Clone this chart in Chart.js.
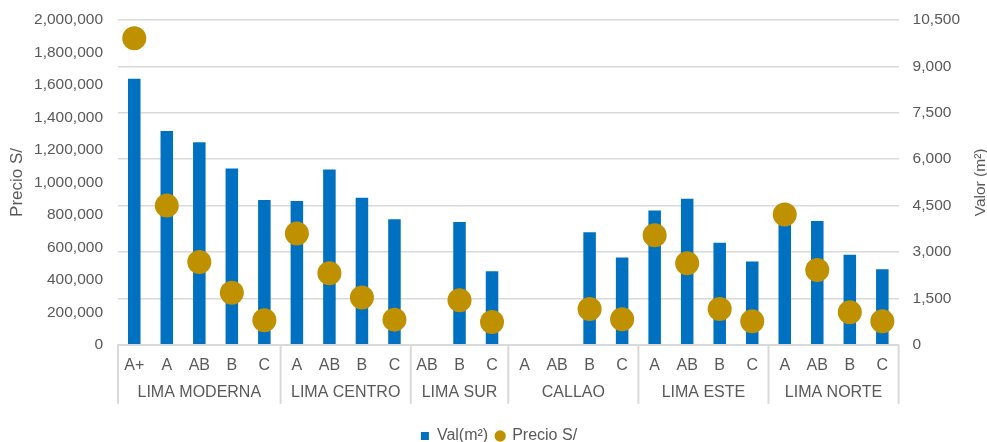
<!DOCTYPE html>
<html>
<head>
<meta charset="utf-8">
<script src="https://cdn.jsdelivr.net/npm/chart.js@4.4.1/dist/chart.umd.min.js"></script>
<style>
  html, body { margin: 0; padding: 0; background: #fff; }
  #wrap { width: 987px; height: 442px; }
</style>
</head>
<body>
<div id="wrap"><canvas id="chart" width="987" height="442"></canvas></div>
<script>
// categorias (segmento) y zonas
const categories = ["A+", "A", "AB", "B", "C", "A", "AB", "B", "C", "AB", "B", "C",
  "A", "AB", "B", "C", "A", "AB", "B", "C", "A", "AB", "B", "C"];
const zones = ["LIMA MODERNA", "LIMA CENTRO", "LIMA SUR", "CALLAO", "LIMA ESTE", "LIMA NORTE"];
const zoneSizes = [5, 4, 3, 4, 4, 4];

// Val(m²) -> eje derecho
const valM2 = [8600, 6910, 6550, 5700, 4680, 4650, 5670, 4750, 4060, null, 3970, 2380,
  null, null, 3640, 2820, 4340, 4720, 3300, 2690, 4250, 4000, 2910, 2440];
// Precio S/ -> eje izquierdo
const precio = [1888000, 857000, 510000, 320000, 151000, 685000, 440000, 291000, 155000, null, 275000, 140000,
  null, null, 220000, 158000, 674000, 502000, 220000, 145000, 803000, 461000, 200000, 145000];

const leftTicks = [0, 200000, 400000, 600000, 800000, 1000000, 1200000, 1400000, 1600000, 1800000, 2000000];
const rightTicks = [0, 1500, 3000, 4500, 6000, 7500, 9000, 10500];

const textColor = "#595959";
const gridColor = "#D9D9D9";
const font = "'Liberation Sans', Arial, sans-serif";

// separadores y nombres de zona debajo del eje x
const zonePlugin = {
  id: "zones",
  afterDraw(chart) {
    const ctx = chart.ctx;
    const x = chart.scales.x;
    const bottom = chart.chartArea.bottom;
    const half = (x.getPixelForValue(1) - x.getPixelForValue(0)) / 2;
    ctx.save();
    ctx.strokeStyle = gridColor;
    ctx.lineWidth = 2;
    ctx.fillStyle = textColor;
    ctx.font = "16px " + font;
    ctx.textAlign = "center";
    ctx.textBaseline = "middle";
    let start = 0;
    zones.forEach((z, i) => {
      const left = x.getPixelForValue(start) - half;
      const right = x.getPixelForValue(start + zoneSizes[i] - 1) + half;
      ctx.beginPath();
      ctx.moveTo(left, bottom);
      ctx.lineTo(left, bottom + 59);
      ctx.stroke();
      if (i === zones.length - 1) {
        ctx.beginPath();
        ctx.moveTo(right, bottom);
        ctx.lineTo(right, bottom + 59);
        ctx.stroke();
      }
      ctx.fillText(z, (left + right) / 2, bottom + 48);
      start += zoneSizes[i];
    });
    // titulo eje derecho (de abajo hacia arriba)
    const a = chart.chartArea;
    ctx.translate(981, (a.top + a.bottom) / 2);
    ctx.rotate(-Math.PI / 2);
    ctx.font = "15.5px " + font;
    ctx.fillText("Valor (m²)", 0, 0);
    ctx.restore();
  }
};

new Chart(document.getElementById("chart"), {
  type: "bar",
  data: {
    labels: categories,
    datasets: [
      {
        label: "Val(m²)",
        data: valM2,
        yAxisID: "y1",
        backgroundColor: "#0070C0",
        borderWidth: 0,
        categoryPercentage: 1,
        barPercentage: 0.385,
        pointStyle: "rect",
        order: 2
      },
      {
        type: "line",
        label: "Precio S/",
        data: precio,
        yAxisID: "y",
        showLine: false,
        pointRadius: 12,
        pointHoverRadius: 12,
        pointBackgroundColor: "#BF9000",
        backgroundColor: "#BF9000",
        pointBorderWidth: 0,
        borderColor: "#BF9000",
        pointStyle: "circle",
        order: 1
      }
    ]
  },
  options: {
    responsive: false,
    animation: false,
    layout: { padding: { top: 20, right: 0, left: 11, bottom: -12 } },
    plugins: {
      legend: {
        position: "bottom",
        labels: {
          usePointStyle: true,
          boxWidth: 8,
          boxHeight: 8,
          padding: 8,
          color: textColor,
          font: { family: font, size: 16 },
          sort: (a, b) => a.datasetIndex - b.datasetIndex
        }
      },
      tooltip: { enabled: false }
    },
    scales: {
      x: {
        grid: { display: false },
        border: { display: true, color: gridColor, width: 2 },
        ticks: { color: textColor, font: { family: font, size: 16 }, padding: 3, maxRotation: 0, autoSkip: false },
        afterFit: (scale) => { scale.height += 42; }
      },
      y: {
        position: "left",
        min: 0,
        max: 2000000,
        afterBuildTicks: (scale) => { scale.ticks = leftTicks.map(v => ({ value: v })); },
        afterFit: (scale) => { scale.width = 107; scale.paddingTop = 0; },
        grid: { display: false, drawTicks: false },
        border: { display: false },
        ticks: {
          color: textColor,
          font: { family: font, size: 15.5 },
          padding: 15,
          callback: (v) => v.toLocaleString("en-US")
        },
        title: { display: true, text: "Precio S/", color: textColor, font: { family: font, size: 17 }, padding: { top: -4, bottom: 4 } }
      },
      y1: {
        position: "right",
        min: 0,
        max: 10500,
        afterBuildTicks: (scale) => { scale.ticks = rightTicks.map(v => ({ value: v })); },
        afterFit: (scale) => { scale.width += 13; scale.paddingTop = 0; },
        grid: { color: gridColor, lineWidth: 1.5, drawTicks: false },
        border: { display: false },
        ticks: {
          color: textColor,
          font: { family: font, size: 15.5 },
          padding: 14,
          callback: (v) => v.toLocaleString("en-US")
        }
      }
    }
  },
  plugins: [zonePlugin]
});
</script>
</body>
</html>
